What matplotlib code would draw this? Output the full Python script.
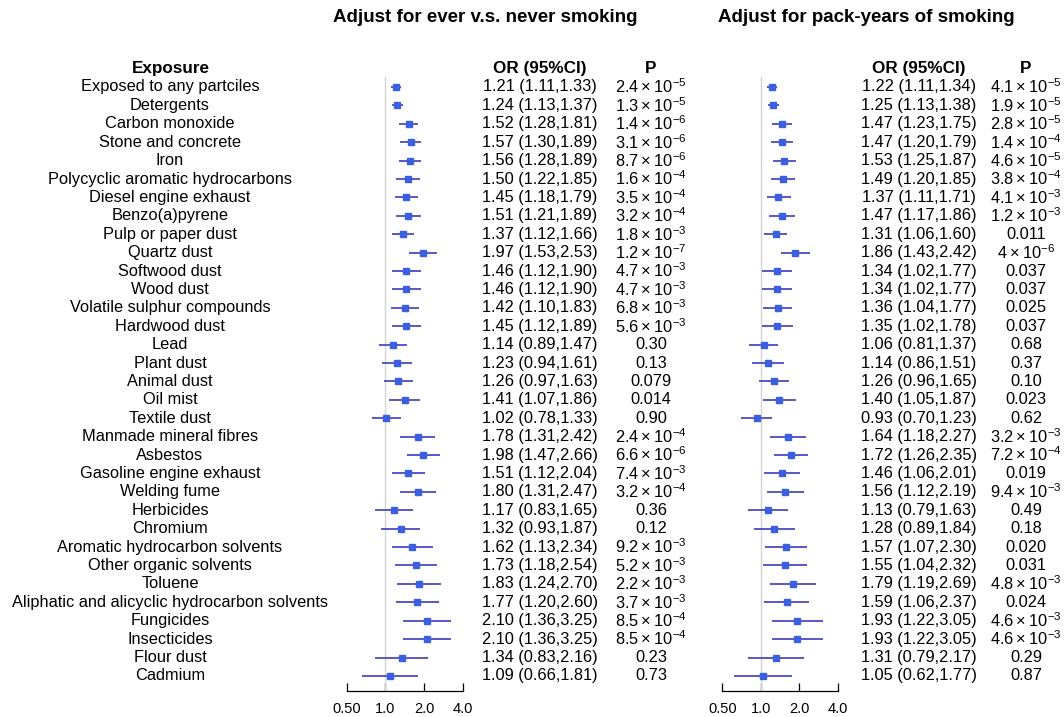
import numpy as np
import matplotlib.pyplot as plt
from matplotlib import transforms

plt.rcParams['font.family'] = ['Liberation Sans', 'DejaVu Sans']
plt.rcParams['mathtext.default'] = 'regular'

exposures = [
    "Exposed to any partciles", "Detergents", "Carbon monoxide", "Stone and concrete",
    "Iron", "Polycyclic aromatic hydrocarbons", "Diesel engine exhaust", "Benzo(a)pyrene",
    "Pulp or paper dust", "Quartz dust", "Softwood dust", "Wood dust",
    "Volatile sulphur compounds", "Hardwood dust", "Lead", "Plant dust", "Animal dust",
    "Oil mist", "Textile dust", "Manmade mineral fibres", "Asbestos",
    "Gasoline engine exhaust", "Welding fume", "Herbicides", "Chromium",
    "Aromatic hydrocarbon solvents", "Other organic solvents", "Toluene",
    "Aliphatic and alicyclic hydrocarbon solvents", "Fungicides", "Insecticides",
    "Flour dust", "Cadmium",
]

# ever vs never smoking
or_a = [1.21, 1.24, 1.52, 1.57, 1.56, 1.50, 1.45, 1.51, 1.37, 1.97, 1.46, 1.46, 1.42, 1.45,
        1.14, 1.23, 1.26, 1.41, 1.02, 1.78, 1.98, 1.51, 1.80, 1.17, 1.32, 1.62, 1.73, 1.83,
        1.77, 2.10, 2.10, 1.34, 1.09]
lo_a = [1.11, 1.13, 1.28, 1.30, 1.28, 1.22, 1.18, 1.21, 1.12, 1.53, 1.12, 1.12, 1.10, 1.12,
        0.89, 0.94, 0.97, 1.07, 0.78, 1.31, 1.47, 1.12, 1.31, 0.83, 0.93, 1.13, 1.18, 1.24,
        1.20, 1.36, 1.36, 0.83, 0.66]
hi_a = [1.33, 1.37, 1.81, 1.89, 1.89, 1.85, 1.79, 1.89, 1.66, 2.53, 1.90, 1.90, 1.83, 1.89,
        1.47, 1.61, 1.63, 1.86, 1.33, 2.42, 2.66, 2.04, 2.47, 1.65, 1.87, 2.34, 2.54, 2.70,
        2.60, 3.25, 3.25, 2.16, 1.81]
p_a = ["2.4e-5", "1.3e-5", "1.4e-6", "3.1e-6", "8.7e-6", "1.6e-4", "3.5e-4", "3.2e-4",
       "1.8e-3", "1.2e-7", "4.7e-3", "4.7e-3", "6.8e-3", "5.6e-3", "0.30", "0.13", "0.079",
       "0.014", "0.90", "2.4e-4", "6.6e-6", "7.4e-3", "3.2e-4", "0.36", "0.12", "9.2e-3",
       "5.2e-3", "2.2e-3", "3.7e-3", "8.5e-4", "8.5e-4", "0.23", "0.73"]

# pack-years of smoking
or_b = [1.22, 1.25, 1.47, 1.47, 1.53, 1.49, 1.37, 1.47, 1.31, 1.86, 1.34, 1.34, 1.36, 1.35,
        1.06, 1.14, 1.26, 1.40, 0.93, 1.64, 1.72, 1.46, 1.56, 1.13, 1.28, 1.57, 1.55, 1.79,
        1.59, 1.93, 1.93, 1.31, 1.05]
lo_b = [1.11, 1.13, 1.23, 1.20, 1.25, 1.20, 1.11, 1.17, 1.06, 1.43, 1.02, 1.02, 1.04, 1.02,
        0.81, 0.86, 0.96, 1.05, 0.70, 1.18, 1.26, 1.06, 1.12, 0.79, 0.89, 1.07, 1.04, 1.19,
        1.06, 1.22, 1.22, 0.79, 0.62]
hi_b = [1.34, 1.38, 1.75, 1.79, 1.87, 1.85, 1.71, 1.86, 1.60, 2.42, 1.77, 1.77, 1.77, 1.78,
        1.37, 1.51, 1.65, 1.87, 1.23, 2.27, 2.35, 2.01, 2.19, 1.63, 1.84, 2.30, 2.32, 2.69,
        2.37, 3.05, 3.05, 2.17, 1.77]
p_b = ["4.1e-5", "1.9e-5", "2.8e-5", "1.4e-4", "4.6e-5", "3.8e-4", "4.1e-3", "1.2e-3",
       "0.011", "4e-6", "0.037", "0.037", "0.025", "0.037", "0.68", "0.37", "0.10", "0.023",
       "0.62", "3.2e-3", "7.2e-4", "0.019", "9.4e-3", "0.49", "0.18", "0.020", "0.031",
       "4.8e-3", "0.024", "4.6e-3", "4.6e-3", "0.29", "0.87"]

ticks = [0.5, 1.0, 2.0, 4.0]
tick_labels = ["0.50", "1.0", "2.0", "4.0"]


def fmt_p(s):
    if "e" in s:
        m, e = s.split("e")
        return r"$%s\times10^{%s}$" % (m, e)
    return s


W, H = 1064, 717
FS = 11.8
fig = plt.figure(figsize=(W / 100, H / 100), dpi=100)
rows = np.arange(len(exposures))


def panel(x0, width, orv, lo, hi, pv, or_x, p_x, title, title_x):
    ax = fig.add_axes([x0 / W, 1 - 691 / H, width / W, (691 - 50) / H])
    ax.set_xscale("log")
    ax.set_xlim(0.5, 4.0)
    ax.set_ylim(32.82, -2.01)
    for s in ["top", "left", "right"]:
        ax.spines[s].set_visible(False)
    ax.spines["bottom"].set_linewidth(0.9)
    ax.set_yticks([])
    ax.set_xticks(ticks)
    ax.set_xticklabels(tick_labels)
    ax.minorticks_off()
    ax.tick_params(axis="x", direction="in", length=6, width=0.9, labelsize=10.5, pad=8)
    ax.patch.set_alpha(0)

    ax.vlines(1.0, -0.6, 32.82, color="#d4d4d4", lw=1)
    ax.hlines(rows, lo, hi, color="#4b4bc4", lw=1.3, clip_on=False)
    ax.plot(orv, rows, "s", ms=5, color="#3c5fe0", clip_on=False, zorder=3)

    tr = transforms.blended_transform_factory(fig.transFigure, ax.transData)
    ax.text(or_x / W, -1, "OR (95%CI)", transform=tr, ha="center", va="center",
            fontsize=FS + 0.5, fontweight="bold")
    ax.text(p_x / W, -1, "P", transform=tr, ha="center", va="center",
            fontsize=FS + 0.5, fontweight="bold")
    for i in rows:
        ax.text(or_x / W, i, "%.2f (%.2f,%.2f)" % (orv[i], lo[i], hi[i]), transform=tr,
                ha="center", va="center", fontsize=FS)
        ax.text(p_x / W, i, fmt_p(pv[i]), transform=tr, ha="center", va="center",
                fontsize=FS)
    fig.text(title_x / W, 1 - 18 / H, title, ha="center", va="center",
             fontsize=13.5, fontweight="bold")
    return ax, tr


axL, trL = panel(346.7, 116, or_a, lo_a, hi_a, p_a, 540, 651,
                 "Adjust for ever v.s. never smoking", 485)
axR, trR = panel(722.3, 115.4, or_b, lo_b, hi_b, p_b, 919, 1026,
                 "Adjust for pack-years of smoking", 866)

axL.text(171 / W, -1, "Exposure", transform=trL, ha="center", va="center",
         fontsize=FS + 0.5, fontweight="bold")
for i, name in enumerate(exposures):
    axL.text(170 / W, i, name, transform=trL, ha="center", va="center", fontsize=FS)

fig.savefig("out.png", dpi=100)
